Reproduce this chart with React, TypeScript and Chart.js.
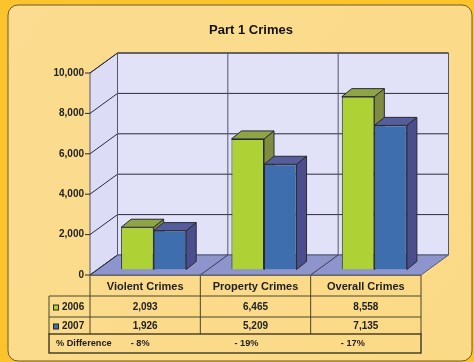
import React, { useEffect, useRef } from "react";
import { Chart, registerables } from "chart.js";

Chart.register(...registerables);

const chartTitle = "Part 1 Crimes";
const categories = ["Violent Crimes", "Property Crimes", "Overall Crimes"];
const series2006 = [2093, 6465, 8558];
const series2007 = [1926, 5209, 7135];
const differences = ["- 8%", "- 19%", "- 17%"];
const yearLabels = ["2006", "2007"];
const yTicks = [0, 2000, 4000, 6000, 8000, 10000];
const differenceLabel = "% Difference";

const WALL_DX = 27.5;
const WALL_DY = -20;
const BAR_DX = 8.5;
const BAR_DY = -5.5;
const BAR_DEPTH_X = 10;
const BAR_DEPTH_Y = -8;

const GREEN = "#AED236";
const GREEN_TOP = "#8FA545";
const GREEN_SIDE = "#7F8B40";
const BLUE = "#3F6EAF";
const BLUE_TOP = "#565D9C";
const BLUE_SIDE = "#4B4E8C";
const INK = "#222222";

function poly(ctx: CanvasRenderingContext2D, pts: number[][], fill?: string, stroke?: string, w = 1) {
  ctx.beginPath();
  pts.forEach((p, i) => (i ? ctx.lineTo(p[0], p[1]) : ctx.moveTo(p[0], p[1])));
  ctx.closePath();
  if (fill) {
    ctx.fillStyle = fill;
    ctx.fill();
  }
  if (stroke) {
    ctx.strokeStyle = stroke;
    ctx.lineWidth = w;
    ctx.stroke();
  }
}

function line(ctx: CanvasRenderingContext2D, x1: number, y1: number, x2: number, y2: number, c = INK, w = 1) {
  ctx.beginPath();
  ctx.moveTo(x1, y1);
  ctx.lineTo(x2, y2);
  ctx.strokeStyle = c;
  ctx.lineWidth = w;
  ctx.stroke();
}

const backdrop = {
  id: "backdrop",
  beforeDraw(chart: any) {
    const { ctx, width, height, chartArea: a, scales } = chart;
    const y = scales.y;
    ctx.save();
    ctx.fillStyle = "#FCC42C";
    ctx.fillRect(0, 0, width, height);
    const g = ctx.createLinearGradient(0, 0, width, height);
    g.addColorStop(0, "#FBDC90");
    g.addColorStop(1, "#FBDA86");
    ctx.beginPath();
    ctx.roundRect(8, 5, width - 10, height - 6, 10);
    ctx.fillStyle = g;
    ctx.fill();
    ctx.strokeStyle = "#6B5A2E";
    ctx.lineWidth = 1;
    ctx.stroke();

    ctx.fillStyle = "#111111";
    ctx.font = "bold 13px 'Liberation Sans'";
    ctx.textAlign = "center";
    ctx.textBaseline = "middle";
    ctx.fillText(chartTitle, 251, 30);

    const yTop = y.getPixelForValue(10000);
    const y0 = y.getPixelForValue(0);
    // back wall, side wall, floor
    poly(ctx, [[a.left + WALL_DX, yTop + WALL_DY], [a.right + WALL_DX, yTop + WALL_DY], [a.right + WALL_DX, y0 + WALL_DY], [a.left + WALL_DX, y0 + WALL_DY]], "#E1E1F8", "#555566");
    poly(ctx, [[a.left, yTop], [a.left + WALL_DX, yTop + WALL_DY], [a.left + WALL_DX, y0 + WALL_DY], [a.left, y0]], "#DCDCF6", "#555566");
    poly(ctx, [[a.left, y0], [a.right, y0], [a.right + WALL_DX, y0 + WALL_DY], [a.left + WALL_DX, y0 + WALL_DY]], "#8D95CC", "#55587A");
    // gridlines
    yTicks.forEach((v) => {
      const py = y.getPixelForValue(v);
      line(ctx, a.left, py, a.left + WALL_DX, py + WALL_DY, "#2A2A3A");
      if (v > 0) line(ctx, a.left + WALL_DX, py + WALL_DY, a.right + WALL_DX, py + WALL_DY, "#2A2A3A");
    });
    // category dividers on wall and floor
    const step = (a.right - a.left) / categories.length;
    for (let i = 0; i <= categories.length; i++) {
      const px = a.left + i * step;
      line(ctx, px + WALL_DX, yTop + WALL_DY, px + WALL_DX, y0 + WALL_DY, "#55566A");
      if (i > 0 && i < categories.length) line(ctx, px, y0, px + WALL_DX, y0 + WALL_DY, "#3A3A55");
    }
    ctx.restore();
  },
};

const bars3d = {
  id: "bars3d",
  beforeDatasetsDraw(chart: any) {
    const { ctx } = chart;
    ctx.save();
    ctx.translate(BAR_DX, BAR_DY);
    [0, 1].forEach((d) => {
      const top = d ? BLUE_TOP : GREEN_TOP;
      const side = d ? BLUE_SIDE : GREEN_SIDE;
      chart.getDatasetMeta(d).data.forEach((bar: any) => {
        const l = bar.x - bar.width / 2;
        const r = bar.x + bar.width / 2;
        const t = bar.y;
        const b = bar.base;
        poly(ctx, [[r, t], [r + BAR_DEPTH_X, t + BAR_DEPTH_Y], [r + BAR_DEPTH_X, b + BAR_DEPTH_Y], [r, b]], side, "#2A2A33");
        poly(ctx, [[l, t], [l + BAR_DEPTH_X, t + BAR_DEPTH_Y], [r + BAR_DEPTH_X, t + BAR_DEPTH_Y], [r, t]], top, "#2A2A33");
      });
    });
  },
  afterDatasetsDraw(chart: any) {
    chart.ctx.restore();
  },
};

const dataTable = {
  id: "dataTable",
  afterDraw(chart: any) {
    const { ctx, chartArea: a, scales } = chart;
    const x = scales.x;
    const y0 = scales.y.getPixelForValue(0);
    const rows = [y0 + 21, y0 + 42, y0 + 59, y0 + 78];
    const leftEdge = 49;
    const step = (a.right - a.left) / categories.length;
    ctx.save();
    ctx.textBaseline = "middle";
    // frame
    line(ctx, a.left, y0, a.left, rows[2], "#4A4628");
    for (let i = 1; i <= categories.length; i++) {
      line(ctx, a.left + i * step, y0, a.left + i * step, rows[2], "#4A4628");
    }
    line(ctx, a.left, y0 + 0.5, a.right, y0 + 0.5, "#6A6650");
    line(ctx, leftEdge, rows[0], a.right, rows[0], "#4A4628");
    line(ctx, leftEdge, rows[1], a.right, rows[1], "#4A4628");
    line(ctx, leftEdge, rows[0], leftEdge, rows[2], "#4A4628");
    ctx.strokeStyle = "#2E2B18";
    ctx.lineWidth = 1.3;
    ctx.strokeRect(leftEdge, rows[2], a.right - leftEdge, rows[3] - rows[2]);

    ctx.fillStyle = INK;
    ctx.textAlign = "center";
    ctx.font = "bold 10px 'Liberation Sans'";
    [series2006, series2007].forEach((vals, r) => {
      const cy = (rows[r] + rows[r + 1]) / 2 + 1;
      vals.forEach((v, i) => {
        ctx.fillText(v.toLocaleString("en-US"), x.getPixelForValue(i), cy);
      });
      ctx.textAlign = "left";
      ctx.fillText(yearLabels[r], 62, cy);
      ctx.textAlign = "center";
      ctx.fillStyle = r ? BLUE : GREEN;
      ctx.fillRect(53.5, cy - 2.5, 5, 5);
      ctx.strokeStyle = INK;
      ctx.lineWidth = 1;
      ctx.strokeRect(53.5, cy - 2.5, 5, 5);
      ctx.fillStyle = INK;
    });
    const cy = (rows[2] + rows[3]) / 2;
    ctx.font = "bold 9.2px 'Liberation Sans'";
    ctx.textAlign = "left";
    ctx.fillText(differenceLabel, 56, cy);
    ctx.textAlign = "center";
    differences.forEach((d, i) => ctx.fillText(d, x.getPixelForValue(i) - 5 + (i === 2 ? -8 : i === 1 ? -4 : 0), cy));
    ctx.restore();
  },
};

export default function App() {
  const ref = useRef<HTMLCanvasElement | null>(null);
  useEffect(() => {
    document.body.style.margin = "0";
    const chart = new Chart(ref.current!, {
      type: "bar",
      data: {
        labels: categories,
        datasets: [
          { label: yearLabels[0], data: series2006, backgroundColor: GREEN, borderColor: "#2A2A33", borderWidth: 1, categoryPercentage: 0.59, barPercentage: 1 },
          { label: yearLabels[1], data: series2007, backgroundColor: BLUE, borderColor: "#2A2A33", borderWidth: 1, categoryPercentage: 0.59, barPercentage: 1 },
        ],
      },
      options: {
        responsive: false,
        animation: false,
        layout: { padding: { top: 73, right: 53, left: 0, bottom: 0 } },
        plugins: { legend: { display: false }, title: { display: false }, tooltip: { enabled: false } },
        scales: {
          x: {
            grid: { display: false },
            border: { display: false },
            ticks: { color: INK, font: { family: "'Liberation Sans'", size: 11, weight: "bold" }, padding: -3, maxRotation: 0 },
            afterFit: (s: any) => { s.height = 87; },
          },
          y: {
            min: 0,
            max: 10000,
            grid: { display: false, drawTicks: false },
            border: { display: false },
            afterBuildTicks: (s: any) => { s.ticks = yTicks.map((value) => ({ value })); },
            ticks: {
              color: INK,
              padding: 6,
              font: { family: "'Liberation Sans'", size: 10, weight: "bold" },
              callback: (v: any) => Number(v).toLocaleString("en-US"),
            },
            afterFit: (s: any) => { s.width = 90; },
          },
        },
      },
      plugins: [backdrop, bars3d, dataTable,
        { id: "tickMarks", afterDraw(c: any) {
            yTicks.forEach((v) => {
              const py = c.scales.y.getPixelForValue(v);
              line(c.ctx, c.chartArea.left - 5, py, c.chartArea.left, py, "#2A2A3A");
            });
          } },
      ],
    } as any);
    return () => chart.destroy();
  }, []);
  return <canvas ref={ref} width={474} height={362} style={{ display: "block", position: "absolute", left: 0, top: 0, filter: "blur(0.5px)" }} />;
}
